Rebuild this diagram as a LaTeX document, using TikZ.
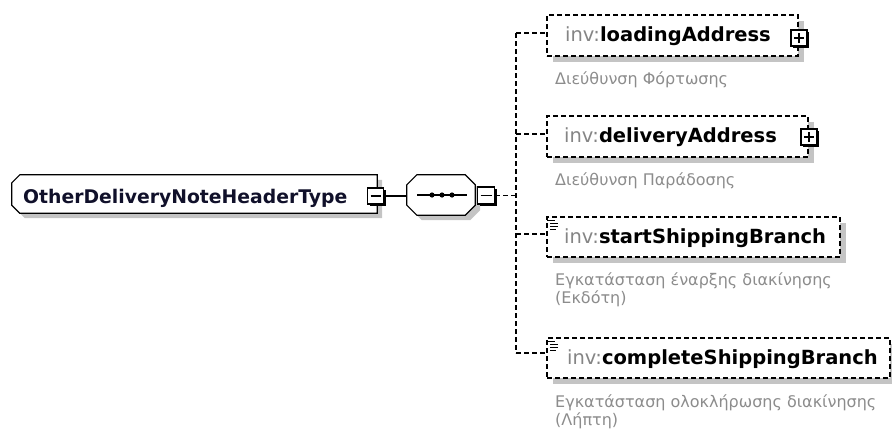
\documentclass[tikz,border=0pt]{standalone}
\usepackage{fontspec}
\setmainfont{DejaVu Sans}
\usetikzlibrary{shadows}
\definecolor{shadowgray}{HTML}{C4C4C4}
\definecolor{nsgray}{HTML}{858585}
\definecolor{descgray}{HTML}{8C8C8C}
\definecolor{namecol}{HTML}{10102A}
\begin{document}
\begin{tikzpicture}[x=1pt,y=-1pt,
  boxline/.style={line width=1.2pt},
  anchorbox/.style={rectangle, draw=none, inner sep=0pt},
  elbox/.style={rectangle, draw, line width=1.1pt, dash pattern=on 5pt off 3pt, fill=white, inner sep=0pt,
    general shadow={fill=shadowgray, shadow xshift=6pt, shadow yshift=-6pt}},
  togglebox/.style={rectangle, draw, line width=1.1pt, fill=white, minimum size=16pt, inner sep=0pt,
    general shadow={fill=black, shadow xshift=2pt, shadow yshift=-2pt}},
  minusbox/.style={togglebox, path picture={\draw[line width=1.1pt] ([xshift=3pt]path picture bounding box.west) -- ([xshift=-3pt]path picture bounding box.east);}},
  plusbox/.style={togglebox, path picture={\draw[line width=1.1pt] ([xshift=3pt]path picture bounding box.west) -- ([xshift=-3pt]path picture bounding box.east);
      \draw[line width=1.1pt] ([yshift=3pt]path picture bounding box.south) -- ([yshift=-3pt]path picture bounding box.north);}},
  conn/.style={line width=1.1pt},
  dconn/.style={line width=1.1pt, dash pattern=on 5pt off 3pt},
  mainname/.style={anchor=base west, inner sep=0pt, font=\fontsize{18.8}{20}\selectfont\bfseries, text=namecol},
  elname/.style={anchor=base west, inner sep=0pt, font=\fontsize{19.5}{21}\selectfont},
  desc/.style={anchor=base west, inner sep=0pt, align=left, font=\fontsize{16}{18}\selectfont, text=descgray},
  iconline/.style={line width=0.9pt}
]
\useasboundingbox (0,0) rectangle (892,434);

% main type box (chamfered on the left)
\node[anchorbox, minimum width=365pt, minimum height=38pt] (main) at (194.5,194) {};
\fill[shadowgray] ([shift={(13,5)}]main.north west) -- ([shift={(5,5)}]main.north east) -- ([shift={(5,5)}]main.south east)
  -- ([shift={(13,5)}]main.south west) -- ([shift={(5,-3)}]main.south west) -- ([shift={(5,13)}]main.north west) -- cycle;
\draw[boxline, fill=white] ([xshift=8pt]main.north west) -- (main.north east) -- (main.south east)
  -- ([xshift=8pt]main.south west) -- ([yshift=8pt]main.south west) -- ([yshift=-8pt]main.north west) -- cycle;
\node[mainname] (mainlabel) at (23,203) {OtherDeliveryNoteHeaderType};
\node[minusbox] (mainminus) at (375.5,196) {};

% sequence compositor (octagon)
\node[anchorbox, minimum width=68pt, minimum height=40pt] (seq) at (441,195) {};
\fill[shadowgray] ([shift={(15,5)}]seq.north west) -- ([shift={(-5,5)}]seq.north east) -- ([shift={(5,15)}]seq.north east)
  -- ([shift={(5,-5)}]seq.south east) -- ([shift={(-5,5)}]seq.south east) -- ([shift={(15,5)}]seq.south west)
  -- ([shift={(5,-5)}]seq.south west) -- ([shift={(5,15)}]seq.north west) -- cycle;
\draw[boxline, fill=white] ([xshift=10pt]seq.north west) -- ([xshift=-10pt]seq.north east) -- ([yshift=-10pt]seq.north east)
  -- ([yshift=10pt]seq.south east) -- ([xshift=-10pt]seq.south east) -- ([xshift=10pt]seq.south west)
  -- ([yshift=10pt]seq.south west) -- ([yshift=-10pt]seq.north west) -- cycle;
\coordinate (seqa) at (417,195);
\coordinate (seqb) at (467,195);
\draw[conn] (seqa) -- (seqb);
\foreach \dx in {432,442,452} \fill (\dx,195) circle (2.6pt);
\node[minusbox, minimum size=17pt] (seqminus) at (486,195.5) {};

\draw[conn] (mainminus.east) -- (seq.west |- mainminus.east);

% junction coordinates
\coordinate (j0) at (516,195.5);
\coordinate (j1) at (516,33);
\coordinate (j2) at (516,134);
\coordinate (j3) at (516,234);
\coordinate (j4) at (516,353);
\draw[dconn] (seqminus.east) -- (j0);
\draw[dconn] (j1) -- (j4);

% child elements
\node[elbox, minimum width=251pt, minimum height=41pt] (loading) at (672.5,35.5) {};
\node[elname] (loadinglabel) at (565,41) {\textcolor{nsgray}{inv:}\textbf{loadingAddress}};
\node[plusbox] (loadingplus) at (799,38) {};
\node[desc] (loadingdesc) at (555,84) {Διεύθυνση Φόρτωσης};

\node[elbox, minimum width=261pt, minimum height=41pt] (delivery) at (677.5,136.5) {};
\node[elname] (deliverylabel) at (564,142) {\textcolor{nsgray}{inv:}\textbf{deliveryAddress}};
\node[plusbox] (deliveryplus) at (809,137) {};
\node[desc] (deliverydesc) at (555,185) {Διεύθυνση Παράδοσης};

\node[elbox, minimum width=293pt, minimum height=40pt] (start) at (693.5,237) {};
\node[elname] (startlabel) at (564,243) {\textcolor{nsgray}{inv:}\textbf{startShippingBranch}};
\node[desc] (startdesc) at (555,303) {Εγκατάσταση έναρξης διακίνησης\\(Εκδότη)};

\node[elbox, minimum width=343pt, minimum height=40pt] (complete) at (718.5,358) {};
\node[elname] (completelabel) at (567,364) {\textcolor{nsgray}{inv:}\textbf{completeShippingBranch}};
\node[desc] (completedesc) at (555,425) {Εγκατάσταση ολοκλήρωσης διακίνησης\\(Λήπτη)};

% icons
\foreach \b in {start,complete}{
  \draw[iconline] ([shift={(1,4)}]\b.north west) -- ++(8,0);
  \draw[iconline] ([shift={(4,7)}]\b.north west) -- ++(8,0);
  \draw[iconline] ([shift={(4,10)}]\b.north west) -- ++(8,0);
  \draw[iconline] ([shift={(4,13)}]\b.north west) -- ++(6,0);
}

% branches
\draw[dconn] (j1) -- (j1 -| loading.west);
\draw[dconn] (j2) -- (j2 -| delivery.west);
\draw[dconn] (j3) -- (j3 -| start.west);
\draw[dconn] (j4) -- (j4 -| complete.west);
\end{tikzpicture}
\end{document}
